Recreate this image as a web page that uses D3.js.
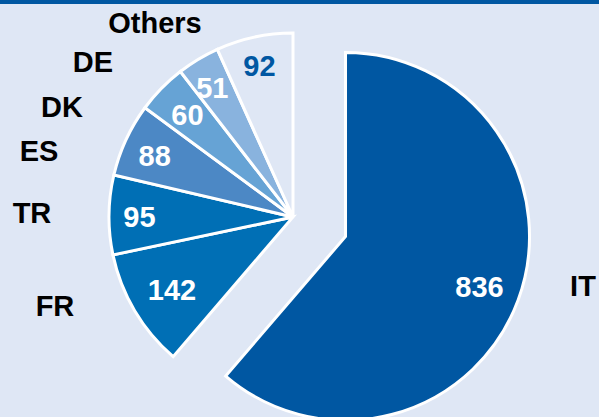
<!DOCTYPE html>
<html>
<head>
<meta charset="utf-8">
<script src="https://cdn.jsdelivr.net/npm/d3@7/dist/d3.min.js"></script>
<style>
  html, body { margin: 0; padding: 0; background: #dfe7f5; }
  svg { display: block; }
</style>
</head>
<body>
<svg id="chart" width="599" height="417"></svg>
<script>
// Countries and their counts, in clockwise order from 12 o'clock
const categories = ["IT", "FR", "TR", "ES", "DK", "DE", "Others"];
const values = [836, 142, 95, 88, 60, 51, 92];
const sliceColors = ["#0057a2", "#006fb5", "#006fb5", "#4c88c5", "#66a3d5", "#89b3de", "#dfe7f5"];
const valueTextColors = ["#ffffff", "#ffffff", "#ffffff", "#ffffff", "#ffffff", "#ffffff", "#0057a2"];

const W = 599, H = 417;
const cx = 293, cy = 217, R = 184;
const explodeKey = "IT", explodeDist = 56;
const fontSize = 29;

const svg = d3.select("#chart");

// background + top rule
svg.append("rect").attr("width", W).attr("height", H).attr("fill", "#dfe7f5");
svg.append("rect").attr("x", 0).attr("y", 0).attr("width", W).attr("height", 4).attr("fill", "#0057a2");

const data = categories.map((c, i) => ({ cat: c, value: values[i], i }));

const pie = d3.pie().value(d => d.value).sort(null);
const arcs = pie(data);
const arc = d3.arc().innerRadius(0).outerRadius(R);

function offsetOf(a) {
  if (a.data.cat !== explodeKey) return [0, 0];
  const m = (a.startAngle + a.endAngle) / 2;
  return [Math.sin(m) * explodeDist, -Math.cos(m) * explodeDist];
}

const g = svg.append("g").attr("transform", `translate(${cx},${cy})`);

g.selectAll("path.slice")
  .data(arcs)
  .join("path")
  .attr("class", "slice")
  .attr("transform", a => `translate(${offsetOf(a)})`)
  .attr("d", arc)
  .attr("fill", a => sliceColors[a.data.i])
  .attr("stroke", "#ffffff")
  .attr("stroke-width", 3)
  .attr("stroke-linejoin", "miter");

// value labels inside slices, near the rim
const labelArc = d3.arc().innerRadius(R * 0.84).outerRadius(R * 0.84);
const valueNudge = { IT: [-11, -3], FR: [12, -6], TR: [1, 2], ES: [2, 4], DK: [5, 6], DE: [-1, 3], Others: [-1, 0] };

g.selectAll("text.val")
  .data(arcs)
  .join("text")
  .attr("class", "val")
  .attr("transform", a => {
    const [ox, oy] = offsetOf(a);
    const [x, y] = labelArc.centroid(a);
    const n = valueNudge[a.data.cat];
    return `translate(${x + ox + n[0]},${y + oy + n[1]})`;
  })
  .attr("text-anchor", "middle")
  .attr("dominant-baseline", "central")
  .attr("font-family", "'Liberation Sans', Arial, sans-serif")
  .attr("font-weight", "bold")
  .attr("font-size", fontSize)
  .attr("fill", a => valueTextColors[a.data.i])
  .text(a => a.data.value);

// category names outside the pie
const catPos = { IT: [583, 286], FR: [55, 306], TR: [32, 213], ES: [39, 151], DK: [62, 107], DE: [93, 62], Others: [155, 23] };

svg.selectAll("text.cat")
  .data(data)
  .join("text")
  .attr("class", "cat")
  .attr("x", d => catPos[d.cat][0])
  .attr("y", d => catPos[d.cat][1])
  .attr("text-anchor", "middle")
  .attr("dominant-baseline", "central")
  .attr("font-family", "'Liberation Sans', Arial, sans-serif")
  .attr("font-weight", "bold")
  .attr("font-size", fontSize)
  .attr("fill", "#000000")
  .text(d => d.cat);
</script>
</body>
</html>
